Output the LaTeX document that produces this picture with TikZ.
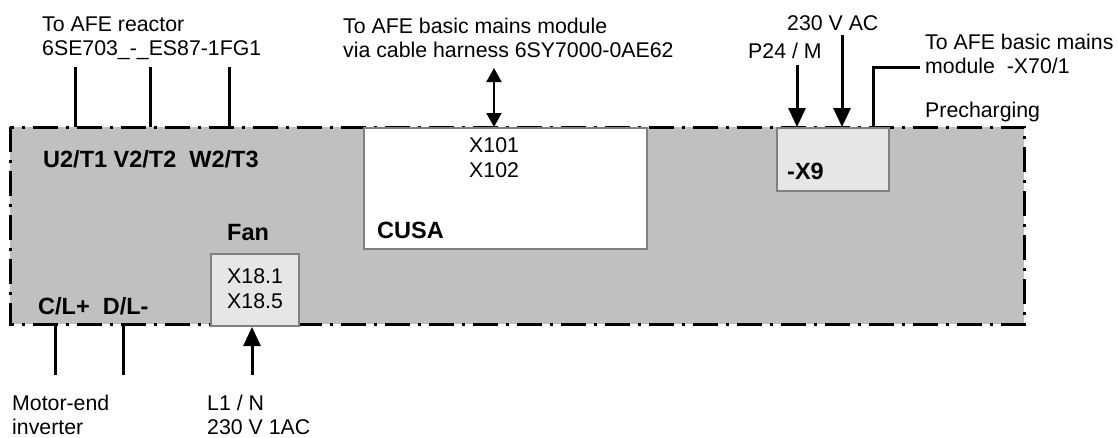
\documentclass[tikz,border=0pt]{standalone}
\usepackage{fontspec}
\setmainfont{Liberation Sans}
\usetikzlibrary{positioning, arrows.meta}
\definecolor{cabinet}{HTML}{C0C0C0}
\definecolor{termfill}{HTML}{E6E6E6}
\definecolor{boxedge}{HTML}{808080}

\begin{document}
\begin{tikzpicture}[x=1pt, y=-1pt,
  lbl/.style={inner sep=0pt, anchor=north west, align=left, font=\fontsize{21.3}{23.5}\selectfont},
  boxlbl/.style={lbl, font=\fontsize{21.3}{25.5}\selectfont},
  bold/.style={lbl, font=\fontsize{23.5}{26}\selectfont\bfseries},
  wire/.style={line width=3pt},
  feed/.style={wire, -{Triangle[width=17pt, length=19pt]}},
  both/.style={line width=2pt, {Triangle[width=15pt, length=14pt]}-{Triangle[width=15pt, length=14pt]}},
  unit/.style={draw=boxedge, line width=2pt, inner sep=0pt, anchor=north west},
  border/.style={line width=3pt, dash pattern=on 25pt off 8pt on 3pt off 8pt}]
  \useasboundingbox (0,0) rectangle (1118,437);

  \node [fill=cabinet, inner sep=0pt, anchor=north west, minimum width=1014pt, minimum height=197pt] (cab) at (10,127) {};
  \draw [border] (cab.north west) rectangle (cab.south east);
  \node [unit, fill=white, minimum width=283pt, minimum height=121pt] (cusa) at (363,127) {};
  \node [unit, fill=termfill, minimum width=112pt, minimum height=63pt] (x9) at (776,127) {};
  \node [unit, fill=termfill, minimum width=88pt, minimum height=72pt] (fan) at (210,253) {};

  \coordinate (U2) at (75,67);
  \coordinate (V2) at (150,67);
  \coordinate (W2) at (229,67);
  \coordinate (H) at (494,68);
  \coordinate (P24) at (797,65);
  \coordinate (AC) at (842,35);
  \coordinate (PC) at (920,67);
  \coordinate (PB) at (873,67);
  \coordinate (CL) at (55,375);
  \coordinate (DL) at (123,375);
  \coordinate (L1) at (252,375);
  \draw [wire] (U2) -- (U2 |- cab.north);
  \draw [wire] (V2) -- (V2 |- cab.north);
  \draw [wire] (W2) -- (W2 |- cab.north);
  \draw [both] (H) -- (H |- cusa.north);
  \draw [feed] (P24) -- (P24 |- x9.north);
  \draw [feed] (AC) -- (AC |- x9.north);
  \draw [wire] (PC) -- (PB) -- (PB |- x9.north);
  \draw [wire] (CL |- cab.south) -- (CL);
  \draw [wire] (DL |- cab.south) -- (DL);
  \draw [feed] (L1) -- (L1 |- fan.south);

  \node [lbl] (reactor) at (42,17) {To AFE reactor\\6SE703\_-\_ES87-1FG1};
  \node [lbl] (harness) at (343,18) {To AFE basic mains module\\via cable harness 6SY7000-0AE62};
  \node [lbl] (actext) at (787,15) {230 V AC};
  \node [lbl] (p24text) at (748,43) {P24 / M};
  \node [lbl] (x70) at (925,34) {To AFE basic mains\\module\ \ -X70/1};
  \node [lbl] (prech) at (925,102) {Precharging};
  \node [bold] (phases) at (43,150) {U2/T1 V2/T2\ \ W2/T3};
  \node [bold] (cusaname) at (377,222) {CUSA};
  \node [boxlbl] (x101) at (469,137) {X101\\X102};
  \node [bold] (x9name) at (787,163) {-X9};
  \node [bold] (fanname) at (227,224) {Fan};
  \node [boxlbl] (x18) at (227,268) {X18.1\\X18.5};
  \node [bold] (dclink) at (38,297) {C/L+\ \ D/L-};
  \node [lbl] (motor) at (12,395) {Motor-end\\inverter};
  \node [lbl] (l1text) at (207,395) {L1 / N\\230 V 1AC};
\end{tikzpicture}
\end{document}
